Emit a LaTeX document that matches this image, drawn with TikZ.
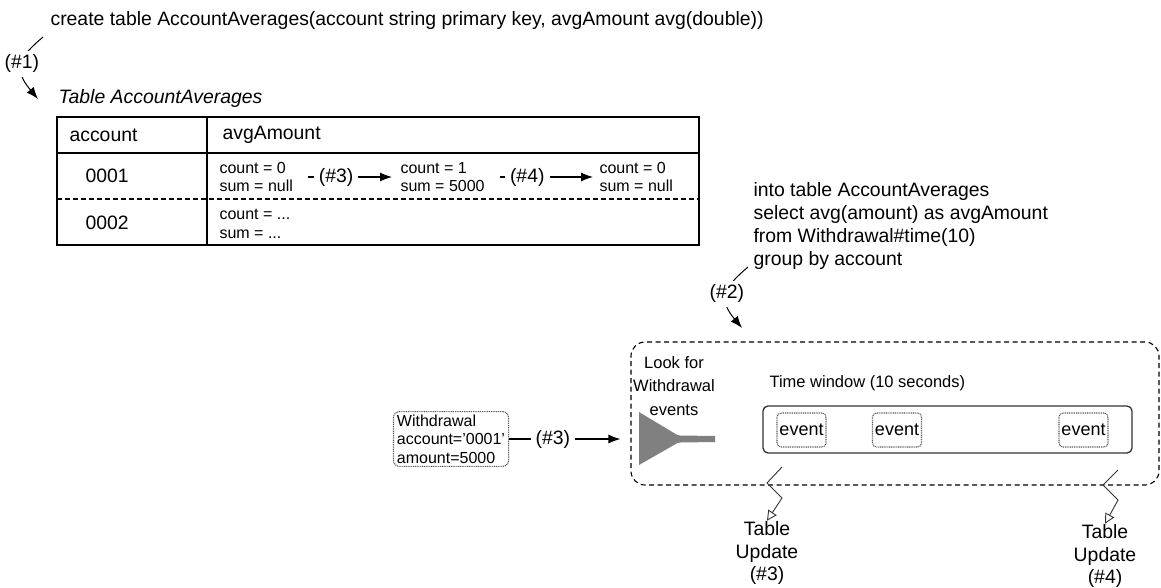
\documentclass[tikz,border=0pt]{standalone}
\usepackage{fontspec}
\setmainfont{Liberation Sans}
\usetikzlibrary{arrows.meta}

\tikzset{
  big/.style={font=\fontsize{19.4}{22.7}\selectfont, inner sep=0pt},
  small/.style={font=\fontsize{16}{18.5}\selectfont, inner sep=0pt, align=left},
  mid/.style={font=\fontsize{16.5}{23.5}\selectfont, inner sep=0pt, align=center},
  lab/.style={big, fill=white, inner xsep=5pt, inner ysep=2pt},
  eventbox/.style={draw=black!65, dash pattern=on 1pt off 0.8pt, rounded corners=4pt,
    minimum width=49pt, minimum height=34pt, inner sep=0pt, font=\fontsize{18}{20}\selectfont},
  zz/.style={-{Triangle[open,length=10pt,width=10pt]}, line width=0.9pt, black!80},
}

\begin{document}
\begin{tikzpicture}[>={Latex[length=12pt,width=9pt]}, x=1pt, y=-1pt, line width=1.1pt]
  \useasboundingbox (0,0) rectangle (1161,587);

  % create statement and (#1)
  \node[big, anchor=west] (create) at (50,20) {create table AccountAverages(account string primary key, avgAmount avg(double))};
  \node[big, anchor=west, font=\fontsize{19.4}{22.7}\selectfont\itshape] (tname) at (58,98) {Table AccountAverages};
  \coordinate (c1) at (43,37);
  \coordinate (t1) at (38,99);
  \draw[->, line width=1pt] (c1) .. controls (19.5,57) and (12,68) .. (t1)
    node[pos=0.5, big, fill=white, inner sep=4pt] (n1) {(\#1)};

  % table
  \draw (57,117) rectangle (699,245);
  \draw (57,153) -- (699,153);
  \draw (207,117) -- (207,245);
  \draw[dash pattern=on 5pt off 3pt] (57,199) -- (699,199);

  \node[big, anchor=west] (hacc) at (69,135) {account};
  \node[big, anchor=west] (havg) at (222,135) {avgAmount};
  \node[big, anchor=west] (r1) at (85,176) {0001};
  \node[big, anchor=west] (r2) at (85,223) {0002};

  \node[small, anchor=west] (s0) at (219,177) {count = 0\\sum = null};
  \node[small, anchor=west] (s1) at (400,177) {count = 1\\sum = 5000};
  \node[small, anchor=west] (s2) at (599,177) {count = 0\\sum = null};
  \node[small, anchor=west] (s3) at (219,224) {count = ...\\sum = ...};

  \draw[->, shorten <=15pt, shorten >=8pt] (s0.east) -- node[lab, pos=0.4] {(\#3)} (s1.west);
  \draw[->, shorten <=15pt, shorten >=6pt] (s1.east) -- node[lab, pos=0.37] {(\#4)} (s2.west);

  % query and (#2)
  \node[big, anchor=west, align=left] (query) at (753,226) {into table AccountAverages\\select avg(amount) as avgAmount\\from Withdrawal\#time(10)\\group by account};
  \coordinate (c2) at (748,267);
  \coordinate (t2) at (742,328);
  \draw[->, line width=1pt] (c2) .. controls (724.5,287) and (717,298) .. (t2)
    node[pos=0.5, big, fill=white, inner sep=4pt] (n2) {(\#2)};

  % statement box
  \node[draw, dash pattern=on 5pt off 3.5pt, rounded corners=14pt, minimum width=528pt, minimum height=143pt] (proc) at (895,413.5) {};
  \node[mid] (look) at (674,386) {Look for\\Withdrawal\\events};
  \fill[black!50] (639,412) -- (674,433) to[out=-30,in=180] (680,435.5) -- (715,436) -- (715,442)
    -- (680,442.5) to[out=180,in=30] (674,445) -- (639,465) -- cycle;

  \node[mid, anchor=west] (twlabel) at (769,383) {Time window (10 seconds)};
  \node[draw=black!80, rounded corners=5pt, line width=1.3pt, minimum width=369pt, minimum height=47pt] (tw) at (947.5,429.5) {};
  \node[eventbox] (e1) at (801.5,430) {event};
  \node[eventbox] (e2) at (897,430) {event};
  \node[eventbox] (e3) at (1083.5,430) {event};

  % event in
  \node[small, draw=black!65, dash pattern=on 1pt off 0.8pt, rounded corners=6pt, inner xsep=3.5pt, inner ysep=3pt] (wd) at (451,439) {Withdrawal\\account='0001'\\amount=5000};
  \draw[->, shorten >=10pt] (wd.east) -- node[lab, pos=0.36] {(\#3)} (wd.east -| proc.west);

  % table updates
  \node[big, align=center] (tu3) at (767,553) {Table\\Update\\(\#3)};
  \node[big, align=center] (tu4) at (1105,556) {Table\\Update\\(\#4)};
  \coordinate (z3) at (782,467);
  \coordinate (z4) at (1118,470);
  \draw[zz] (z3) -- (767,483) -- (782,498) -- (tu3.north);
  \draw[zz] (z4) -- (1103,485) -- (1118,500) -- (tu4.north);
\end{tikzpicture}
\end{document}
